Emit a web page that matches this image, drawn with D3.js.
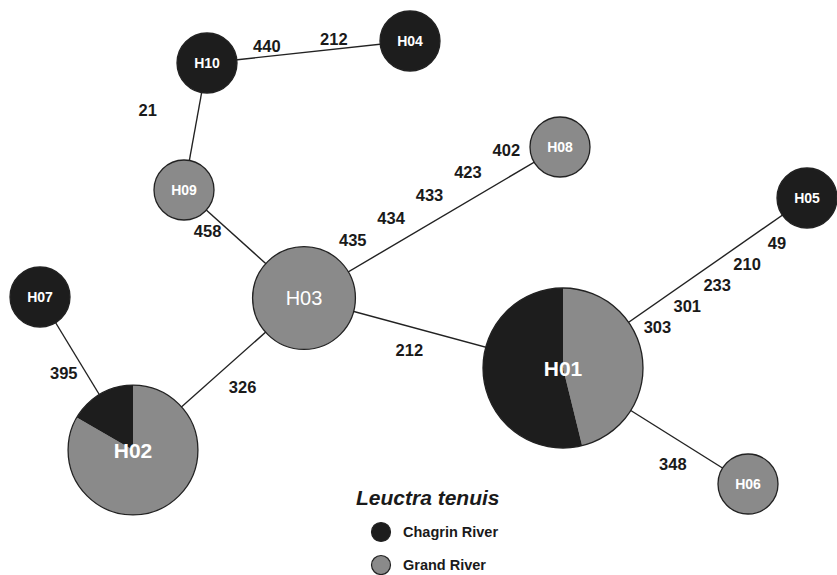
<!DOCTYPE html>
<html>
<head>
<meta charset="utf-8">
<script src="https://cdn.jsdelivr.net/npm/d3@7"></script>
<style>
  body { margin: 0; background: #fff; }
  svg { display: block; font-family: 'Liberation Sans', Arial, sans-serif; }
</style>
</head>
<body>
<div class="svg-container"></div>
<script>
//haplotypes and counts per river
const haplotypes = ['H01','H02','H03','H04','H05','H06','H07','H08','H09','H10'];
const chagrin = [7, 1, 0, 1, 1, 0, 1, 0, 0, 1];
const grand   = [6, 5, 3, 0, 0, 1, 0, 1, 1, 0];

//network layout (drawing units)
const layoutX = [563, 133, 304, 410, 807, 748, 40, 560, 184, 207];
const layoutY = [368, 450, 298, 41, 198, 484, 297, 147, 190, 63];

//links and mutation sites on each link
const edgeFrom = ['H10','H10','H09','H03','H03','H02','H07','H01','H01'];
const edgeTo   = ['H04','H09','H03','H08','H01','H03','H02','H05','H06'];
const mutations = [
    ['440','212'], ['21'], ['458'],
    ['435','434','433','423','402'], ['212'], ['326'], ['395'],
    ['303','301','233','210','49'], ['348']
];

//legend
const legendTitle = 'Leuctra tenuis';
const rivers = ['Chagrin River', 'Grand River'];

//label placement along each link (fraction of link) and side offset
const labelT0  = [0.30, 0.44, 0.28, 0.24, 0.43, 0.54, 0.43, 0.34, 0.66];
const labelT1  = [0.63, 0.44, 0.28, 0.84, 0.43, 0.54, 0.43, 0.83, 0.66];
const labelOff = [-10, 50, 15, -25, 23, 26, 19, 20, 23];

const width = 837;
const height = 575;
const colors = { 'Chagrin River': '#1d1d1d', 'Grand River': '#8a8a8a' };

const xScale = d3.scaleLinear().domain([0, 837]).range([0, width]);
const yScale = d3.scaleLinear().domain([0, 575]).range([0, height]);
const rScale = d3.scaleLog().domain([1, 13]).range([30, 80]);

const nodes = haplotypes.map((h, i) => ({
    id: h,
    x: xScale(layoutX[i]),
    y: yScale(layoutY[i]),
    counts: [grand[i], chagrin[i]],
    r: rScale(grand[i] + chagrin[i])
}));
const byId = new Map(nodes.map(n => [n.id, n]));

const svg = d3.select('.svg-container')
    .append('svg')
    .attr('width', width)
    .attr('height', height);

//links
const edges = edgeFrom.map((f, i) => ({ a: byId.get(f), b: byId.get(edgeTo[i]), muts: mutations[i], i }));

svg.selectAll('.link')
    .data(edges)
    .join('line')
    .attr('class', 'link')
    .attr('x1', d => d.a.x).attr('y1', d => d.a.y)
    .attr('x2', d => d.b.x).attr('y2', d => d.b.y)
    .attr('stroke', '#222')
    .attr('stroke-width', 1.4);

//mutation labels
const mutLabels = [];
edges.forEach(e => {
    const dx = e.b.x - e.a.x, dy = e.b.y - e.a.y;
    const L = Math.hypot(dx, dy);
    const ux = dx / L, uy = dy / L;
    const nx = -uy, ny = ux;
    const n = e.muts.length;
    e.muts.forEach((m, k) => {
        const t = n === 1 ? labelT0[e.i] : labelT0[e.i] + (labelT1[e.i] - labelT0[e.i]) * k / (n - 1);
        mutLabels.push({
            text: m,
            x: e.a.x + dx * t + nx * labelOff[e.i],
            y: e.a.y + dy * t + ny * labelOff[e.i]
        });
    });
});

svg.selectAll('.mut')
    .data(mutLabels)
    .join('text')
    .attr('class', 'mut')
    .attr('x', d => d.x)
    .attr('y', d => d.y)
    .attr('dy', '0.36em')
    .attr('text-anchor', 'middle')
    .attr('font-size', 16.5)
    .attr('font-weight', 'bold')
    .attr('fill', '#1a1a1a')
    .text(d => d.text);

//haplotype pies
const pie = d3.pie().sort(null).startAngle(0).endAngle(2 * Math.PI);
const arc = d3.arc().innerRadius(0);

const g = svg.selectAll('.node')
    .data(nodes)
    .join('g')
    .attr('class', 'node')
    .attr('transform', d => `translate(${d.x},${d.y})`);

g.selectAll('path')
    .data(d => pie(d.counts).map((p, j) => ({ ...p, r: d.r, river: rivers[1 - j] })))
    .join('path')
    .attr('d', d => arc.outerRadius(d.r)(d))
    .attr('fill', d => colors[d.river]);

g.append('circle')
    .attr('r', d => d.r)
    .attr('fill', 'none')
    .attr('stroke', '#222')
    .attr('stroke-width', 1.3);

g.append('text')
    .attr('text-anchor', 'middle')
    .attr('dy', '0.36em')
    .attr('fill', '#fff')
    .attr('font-size', d => d.r > 60 ? 21 : d.r > 45 ? 20 : 14)
    .attr('font-weight', d => (d.r > 45 && d.r <= 60) ? 'normal' : 'bold')
    .text(d => d.id);

//legend
const legend = svg.append('g')
    .attr('transform', `translate(${xScale(356)},${yScale(505)})`);

legend.append('text')
    .attr('x', 0).attr('y', 0)
    .attr('font-size', 21)
    .attr('font-weight', 'bold')
    .attr('font-style', 'italic')
    .attr('fill', '#1a1a1a')
    .text(legendTitle);

const items = legend.selectAll('.item')
    .data(rivers)
    .join('g')
    .attr('class', 'item')
    .attr('transform', (d, i) => `translate(0,${27 + i * 33})`);

items.append('circle')
    .attr('cx', 25)
    .attr('cy', 0)
    .attr('r', 9.5)
    .attr('fill', d => colors[d])
    .attr('stroke', '#222')
    .attr('stroke-width', 1.2);

items.append('text')
    .attr('x', 47)
    .attr('y', 0)
    .attr('dy', '0.36em')
    .attr('font-size', 14.5)
    .attr('font-weight', 'bold')
    .attr('fill', '#1a1a1a')
    .text(d => d);
</script>
</body>
</html>
